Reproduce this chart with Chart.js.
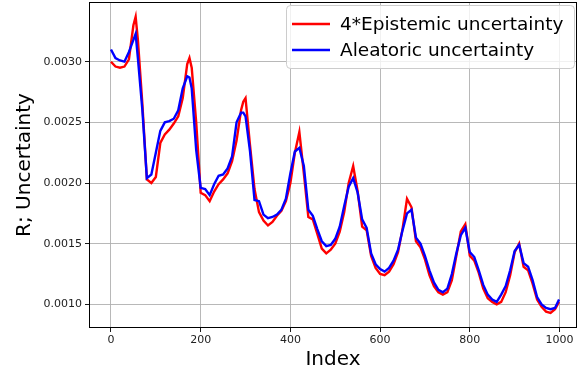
<!DOCTYPE html>
<html>
<head>
<meta charset="utf-8">
<script src="https://cdn.jsdelivr.net/npm/chart.js@4"></script>
<style>
  html, body { margin: 0; padding: 0; background: #fff; }
  #wrap { width: 582px; height: 374px; position: relative; }
</style>
</head>
<body>
<div id="wrap"><canvas id="uncChart"></canvas></div>
<script>
// sample index along the sequence
const indexes = [0, 10, 20, 30, 40, 50, 55, 60, 70, 80, 90, 100, 110, 120, 130, 140, 150, 160, 170, 175,
  180, 190, 200, 210, 220, 230, 240, 250, 260, 270, 280, 290, 295, 300, 310, 320, 330, 340, 350, 360,
  370, 380, 390, 400, 410, 420, 430, 440, 450, 460, 470, 480, 490, 500, 510, 520, 530, 540, 550, 560,
  570, 580, 590, 600, 610, 620, 630, 640, 650, 660, 670, 680, 690, 700, 710, 720, 730, 740, 750, 760,
  770, 780, 790, 800, 810, 820, 830, 840, 850, 860, 870, 880, 890, 900, 910, 920, 930, 940, 950, 960,
  970, 980, 990, 999];

// 4 * epistemic uncertainty (red)
const epistemic4 = [0.00300, 0.00296, 0.00295, 0.00296, 0.00302, 0.00330, 0.00337, 0.00318, 0.00265, 0.00203,
  0.00200, 0.00205, 0.00233, 0.00240, 0.00244, 0.00249, 0.00255, 0.00270, 0.00298, 0.00303,
  0.00295, 0.00250, 0.00192, 0.00190, 0.00185, 0.00193, 0.00199, 0.00203, 0.00208, 0.00218,
  0.00235, 0.00260, 0.00267, 0.00270, 0.00231, 0.00195, 0.00176, 0.00169, 0.00165, 0.00168,
  0.00173, 0.00177, 0.00185, 0.00200, 0.00225, 0.00242, 0.00208, 0.00172, 0.00170, 0.00158,
  0.00146, 0.00142, 0.00145, 0.00150, 0.00160, 0.00176, 0.00200, 0.00214, 0.00193, 0.00164,
  0.00161, 0.00140, 0.00130, 0.00125, 0.00124, 0.00127, 0.00133, 0.00143, 0.00162, 0.00187,
  0.00180, 0.00152, 0.00147, 0.00137, 0.00124, 0.00115, 0.00110, 0.00108, 0.00110, 0.00120,
  0.00140, 0.00160, 0.00166, 0.00140, 0.00136, 0.00126, 0.00113, 0.00105, 0.00102, 0.00100,
  0.00102, 0.00110, 0.00124, 0.00143, 0.00150, 0.00131, 0.00128, 0.00117, 0.00104, 0.00098,
  0.00094, 0.00093, 0.00096, 0.00102];

// aleatoric uncertainty (blue)
const aleatoric = [0.00310, 0.00303, 0.00301, 0.00300, 0.00308, 0.00318, 0.00323, 0.00303, 0.00260, 0.00204,
  0.00207, 0.00225, 0.00243, 0.00250, 0.00251, 0.00253, 0.00260, 0.00278, 0.00288, 0.00287,
  0.00278, 0.00227, 0.00196, 0.00195, 0.00190, 0.00199, 0.00206, 0.00207, 0.00212, 0.00222,
  0.00250, 0.00258, 0.00258, 0.00255, 0.00226, 0.00186, 0.00185, 0.00174, 0.00171, 0.00172,
  0.00174, 0.00178, 0.00187, 0.00208, 0.00226, 0.00229, 0.00214, 0.00178, 0.00173, 0.00162,
  0.00152, 0.00148, 0.00149, 0.00154, 0.00164, 0.00181, 0.00197, 0.00204, 0.00192, 0.00170,
  0.00163, 0.00142, 0.00133, 0.00129, 0.00127, 0.00130, 0.00136, 0.00145, 0.00161, 0.00175,
  0.00178, 0.00155, 0.00150, 0.00140, 0.00128, 0.00118, 0.00112, 0.00110, 0.00113, 0.00125,
  0.00142, 0.00157, 0.00163, 0.00143, 0.00139, 0.00128, 0.00116, 0.00108, 0.00104, 0.00102,
  0.00108, 0.00115, 0.00128, 0.00144, 0.00149, 0.00134, 0.00131, 0.00120, 0.00106, 0.00100,
  0.00097, 0.00096, 0.00097, 0.00104];

const xTicks = [0, 200, 400, 600, 800, 1000];
const yTicks = [0.0010, 0.0015, 0.0020, 0.0025, 0.0030];
const seriesNames = ['4*Epistemic uncertainty', 'Aleatoric uncertainty'];

const FONT = 'DejaVu Sans, sans-serif';

function toPoints(ys) {
    return indexes.map(function(x, i) { return { x: x, y: ys[i] }; });
}

// frame around the plot + matplotlib-style legend box
const framePlugin = {
    id: 'frame',
    afterDatasetsDraw: function(chart) {
        const a = chart.chartArea;
        const c = chart.ctx;
        c.save();
        c.strokeStyle = '#000';
        c.lineWidth = 1;
        c.strokeRect(Math.round(a.left) + 0.5, Math.round(a.top) + 0.5,
                     Math.round(a.right - a.left) - 1, Math.round(a.bottom - a.top) - 1);
        c.restore();
    },
    afterDraw: function(chart) {
        const c = chart.ctx;
        const bx = 286, by = 5, bw = 288, bh = 63;
        c.save();
        c.fillStyle = 'rgba(255,255,255,0.8)';
        c.strokeStyle = '#cccccc';
        c.lineWidth = 1;
        c.beginPath();
        c.roundRect(bx + 0.5, by + 0.5, bw, bh, 4);
        c.fill();
        c.stroke();
        c.font = '18.5px ' + FONT;
        c.textBaseline = 'middle';
        c.fillStyle = '#000';
        chart.data.datasets.forEach(function(ds, i) {
            const y = by + 19 + i * 26;
            c.strokeStyle = ds.borderColor;
            c.lineWidth = 2.4;
            c.beginPath();
            c.moveTo(bx + 6, y);
            c.lineTo(bx + 44, y);
            c.stroke();
            c.fillText(seriesNames[i], bx + 54, y + 1);
        });
        c.restore();
    }
};

new Chart(document.getElementById('uncChart'), {
    type: 'line',
    data: {
        datasets: [{
            label: seriesNames[0],
            data: toPoints(epistemic4),
            borderColor: '#ff0000',
            borderWidth: 2.4,
            pointRadius: 0,
            tension: 0,
            order: 1
        }, {
            label: seriesNames[1],
            data: toPoints(aleatoric),
            borderColor: '#0000ff',
            borderWidth: 2.4,
            pointRadius: 0,
            tension: 0,
            order: 0
        }]
    },
    options: {
        responsive: true,
        maintainAspectRatio: false,
        animation: false,
        layout: { padding: { top: 2, right: 5, left: 0, bottom: 0 } },
        plugins: {
            legend: { display: false },
            tooltip: { enabled: false }
        },
        scales: {
            x: {
                type: 'linear',
                min: -49,
                max: 1039,
                afterBuildTicks: function(s) { s.ticks = xTicks.map(function(v) { return { value: v }; }); },
                afterFit: function(s) {
                    s.height = 46;
                    s.paddingLeft = 0;
                    s.paddingRight = 0;
                },
                grid: { color: '#b0b0b0', lineWidth: 0.9, tickLength: 4, tickColor: '#000' },
                border: { display: false },
                ticks: {
                    color: '#222',
                    font: { family: FONT, size: 11 },
                    padding: 2,
                    maxRotation: 0,
                    callback: function(v) { return String(v); }
                },
                title: {
                    display: true,
                    text: 'Index',
                    color: '#000',
                    font: { family: FONT, size: 20 },
                    padding: { top: 0, bottom: 2 }
                }
            },
            y: {
                min: 0.000805,
                max: 0.003492,
                afterBuildTicks: function(s) { s.ticks = yTicks.map(function(v) { return { value: v }; }); },
                afterFit: function(s) {
                    s.width = 89;
                    s.paddingTop = 0;
                    s.paddingBottom = 0;
                },
                grid: { color: '#b0b0b0', lineWidth: 0.9, tickLength: 4, tickColor: '#000' },
                border: { display: false },
                ticks: {
                    color: '#222',
                    font: { family: FONT, size: 11 },
                    padding: 3,
                    callback: function(v) { return v.toFixed(4); }
                },
                title: {
                    display: true,
                    text: 'R; Uncertainty',
                    color: '#000',
                    font: { family: FONT, size: 20 },
                    padding: { top: 13, bottom: 0 }
                }
            }
        }
    },
    plugins: [framePlugin]
});
</script>
</body>
</html>
